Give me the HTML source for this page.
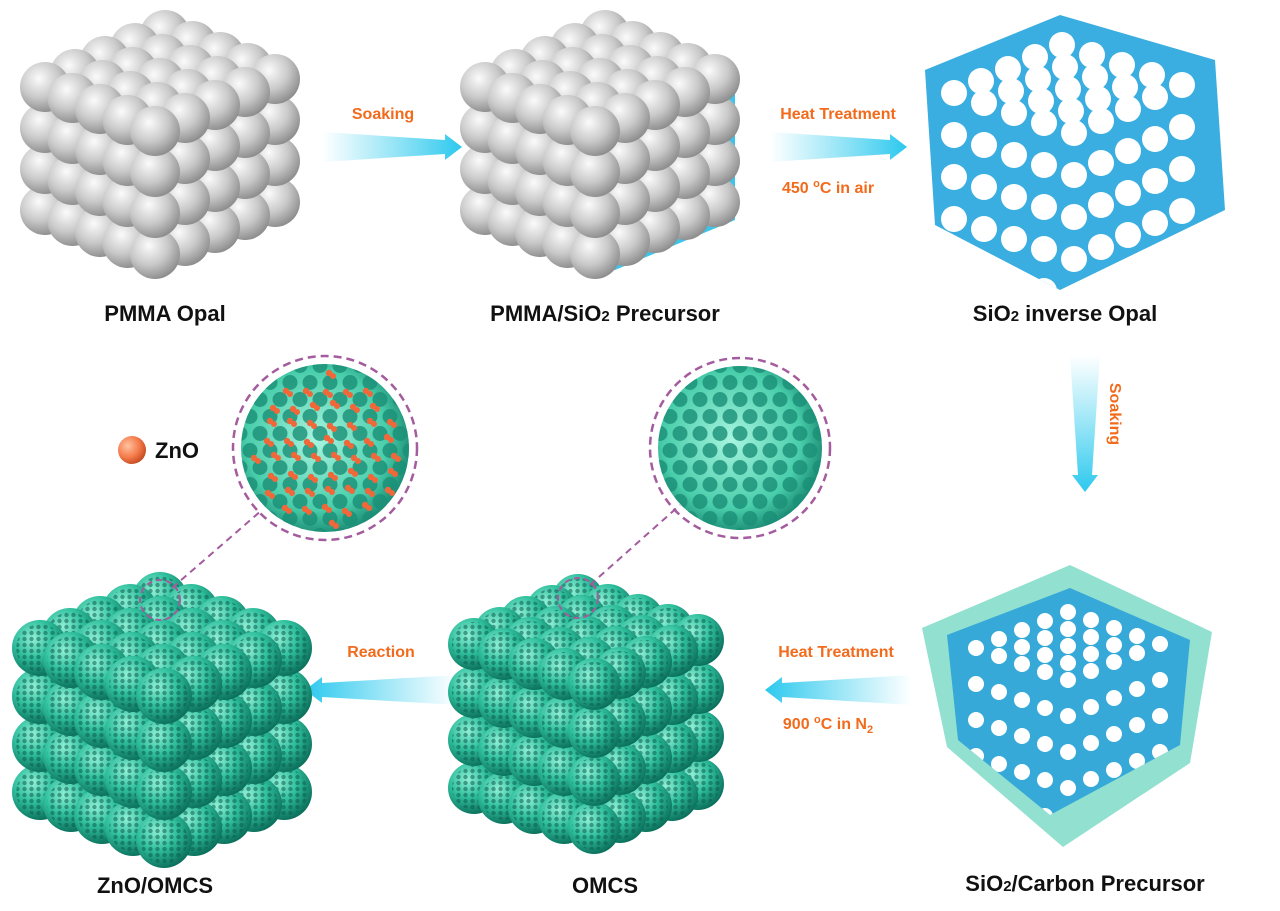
<!DOCTYPE html>
<html><head><meta charset="utf-8"><style>
body{margin:0;background:#fff;width:1280px;height:911px;overflow:hidden;font-family:"Liberation Sans",Arial,sans-serif}
svg{position:absolute;left:0;top:0}
.lb{font-weight:bold;font-size:22px;fill:#111}
.or{font-weight:bold;font-size:16px;fill:#f26b1d}
</style></head><body>
<svg id="s" width="1280" height="911" viewBox="0 0 1280 911">
<defs>
<radialGradient id="gw" cx="0.38" cy="0.33" r="0.7"><stop offset="0" stop-color="#fbfbfb"/><stop offset="0.55" stop-color="#c9c9c9"/><stop offset="1" stop-color="#8c8c8c"/></radialGradient>
<radialGradient id="gt" cx="0.38" cy="0.33" r="0.7"><stop offset="0" stop-color="#8ff0d6"/><stop offset="0.5" stop-color="#2fbf9d"/><stop offset="1" stop-color="#0a6e5a"/></radialGradient>
<radialGradient id="gb" cx="0.45" cy="0.45" r="0.6"><stop offset="0" stop-color="#a8f5e0"/><stop offset="0.7" stop-color="#48cdaa"/><stop offset="1" stop-color="#13806a"/></radialGradient>
<pattern id="hp" width="7" height="6" patternUnits="userSpaceOnUse"><circle cx="3.5" cy="3" r="2.2" fill="#0b5e4d"/></pattern>
<pattern id="hb" width="20" height="34" patternUnits="userSpaceOnUse"><circle cx="10" cy="8.5" r="7.5" fill="#1a8f77"/><circle cx="0" cy="25.5" r="7.5" fill="#1a8f77"/><circle cx="20" cy="25.5" r="7.5" fill="#1a8f77"/></pattern>
<linearGradient id="ah" x1="0" x2="1"><stop offset="0" stop-color="#3cd0ef" stop-opacity="0"/><stop offset="1" stop-color="#2cc8ee"/></linearGradient>
<linearGradient id="ahr" x1="1" x2="0"><stop offset="0" stop-color="#3cd0ef" stop-opacity="0"/><stop offset="1" stop-color="#2cc8ee"/></linearGradient>
<linearGradient id="av" x1="0" x2="0" y1="0" y2="1"><stop offset="0" stop-color="#3cd0ef" stop-opacity="0"/><stop offset="1" stop-color="#2cc8ee"/></linearGradient>
<radialGradient id="zo" cx="0.35" cy="0.35" r="0.7"><stop offset="0" stop-color="#ffc2a0"/><stop offset="0.6" stop-color="#f47a4a"/><stop offset="1" stop-color="#c44a20"/></radialGradient>
<clipPath id="c1"><circle cx="325" cy="448" r="84"/></clipPath>
<clipPath id="c2"><circle cx="740" cy="448" r="82"/></clipPath>
<clipPath id="ci1"><polygon points="1060,15 925,70 935,225 1060,290 1225,210 1215,60"/></clipPath>
<clipPath id="ci2"><polygon points="1070,588 947,635 958,740 1050,815 1180,745 1190,640"/></clipPath>
</defs>
<path d="M322,132 L445,140 L445,134 L462,147 L445,160 L445,154 L322,162 Z" fill="url(#ah)"/>
<path d="M770,132 L890,140 L890,134 L907,147 L890,160 L890,154 L770,162 Z" fill="url(#ah)"/>
<path d="M1070,355 L1078,475 L1072,475 L1085,492 L1098,475 L1092,475 L1100,355 Z" fill="url(#av)"/>
<path d="M458,675 L322,683 L322,677 L305,690 L322,703 L322,697 L458,705 Z" fill="url(#ahr)"/>
<path d="M912,675 L782,683 L782,677 L765,690 L782,703 L782,697 L912,705 Z" fill="url(#ahr)"/>
<text class="or" x="383" y="119" text-anchor="middle">Soaking</text>
<text class="or" x="838" y="119" text-anchor="middle">Heat Treatment</text>
<text class="or" x="828" y="193" text-anchor="middle">450 <tspan font-size="11" dy="-6">o</tspan><tspan dy="6">C  in air</tspan></text>
<text class="or" x="1104" y="420" text-anchor="middle" transform="rotate(90 1110 420)">Soaking</text>
<text class="or" x="836" y="657" text-anchor="middle">Heat Treatment</text>
<text class="or" x="828" y="729" text-anchor="middle">900 <tspan font-size="11" dy="-6">o</tspan><tspan dy="6">C  in N</tspan><tspan font-size="11" dy="4">2</tspan></text>
<text class="or" x="381" y="657" text-anchor="middle">Reaction</text>
<text class="lb" x="165" y="321" text-anchor="middle">PMMA Opal</text>
<text class="lb" x="605" y="321" text-anchor="middle">PMMA/SiO<tspan font-size="15">2</tspan> Precursor</text>
<text class="lb" x="1065" y="321" text-anchor="middle">SiO<tspan font-size="15">2</tspan> inverse Opal</text>
<text class="lb" x="155" y="893" text-anchor="middle">ZnO/OMCS</text>
<text class="lb" x="605" y="893" text-anchor="middle">OMCS</text>
<text class="lb" x="1085" y="891" text-anchor="middle">SiO<tspan font-size="15">2</tspan>/Carbon Precursor</text>
<circle cx="132" cy="450" r="14" fill="url(#zo)"/>
<text class="lb" x="155" y="458">ZnO</text>
<polygon points="605,35 485,88 490,230 615,270 735,220 735,85" fill="#3fc3e8"/>
<polygon points="1060,15 925,70 935,225 1060,290 1225,210 1215,60" fill="#3aaee0"/>
<g id="h1" clip-path="url(#ci1)"></g>
<polygon points="922,628 1070,565 1212,632 1190,763 1063,847 947,747" fill="#92e0cf"/>
<polygon points="1070,588 947,635 958,740 1050,815 1180,745 1190,640" fill="#36a9d8"/>
<g id="h2" clip-path="url(#ci2)"></g>
<g id="g"></g>
<line x1="172" y1="588" x2="262" y2="510" stroke="#a35c9e" stroke-width="2" stroke-dasharray="7,5"/>
<line x1="590" y1="585" x2="680" y2="505" stroke="#a35c9e" stroke-width="2" stroke-dasharray="7,5"/>
<circle cx="325" cy="448" r="84" fill="url(#gb)"/>
<g clip-path="url(#c1)"><rect x="240" y="360" width="170" height="180" fill="url(#hb)" opacity="0.8"/></g>
<g id="dots"></g>
<circle cx="325" cy="448" r="92" fill="none" stroke="#a35c9e" stroke-width="2.5" stroke-dasharray="8,5"/>
<circle cx="740" cy="448" r="82" fill="url(#gb)"/>
<g clip-path="url(#c2)"><rect x="655" y="360" width="170" height="180" fill="url(#hb)" opacity="0.8"/></g>
<circle cx="740" cy="448" r="90" fill="none" stroke="#a35c9e" stroke-width="2.5" stroke-dasharray="8,5"/>
<circle cx="160" cy="600" r="20" fill="none" stroke="#a35c9e" stroke-width="2" stroke-dasharray="6,4"/>
<circle cx="578" cy="598" r="20" fill="none" stroke="#a35c9e" stroke-width="2" stroke-dasharray="6,4"/>
</svg>
<script>
var NS="http://www.w3.org/2000/svg",g=document.getElementById('g');
function c(x,y,r,f,op,par){var e=document.createElementNS(NS,'circle');e.setAttribute('cx',x);e.setAttribute('cy',y);e.setAttribute('r',r);e.setAttribute('fill',f);if(op)e.setAttribute('opacity',op);(par||g).appendChild(e);}
function cube(x0,y0,n,L,dxi,dyi,dxj,dyj,dz,r,fill,pat){
 var a=[];for(var i=0;i<n;i++)for(var j=0;j<n;j++)for(var k=0;k<L;k++){
  if(!(i==n-1||j==n-1||k==0))continue;
  a.push([i+j-k*0.6,x0+i*dxi+j*dxj,y0+i*dyi+j*dyj+k*dz]);}
 a.sort(function(p,q){return p[0]-q[0]});
 a.forEach(function(p){c(p[1],p[2],r,fill);if(pat)c(p[1],p[2],r*0.85,pat,0.55);});}
function holes(par,x0,y0,n,L,dxi,dyi,dxj,dyj,dz,r){
 for(var i=0;i<n;i++)for(var j=0;j<n;j++)for(var k=0;k<L;k++){
  if(!(i==n-1||j==n-1||k==0))continue;
  var x=x0+i*dxi+j*dxj,y=y0+i*dyi+j*dyj+k*dz;
  c(x,y,r,'#ffffff',0,par);}}
holes(document.getElementById('h1'),1062,45,5,5,-27,12,30,10,42,13);
holes(document.getElementById('h2'),1068,612,5,5,-23,9,23,8,36,8);
cube(165,35,5,4,-30,13,27.5,11,41,25,'url(#gw)');
cube(605,35,5,4,-30,13,27.5,11,41,25,'url(#gw)');
cube(578,600,5,4,-26,11,30,10,48,26,'url(#gt)','url(#hp)');
cube(160,600,5,4,-30,12,31,12,48,28,'url(#gt)','url(#hp)');
var d=document.getElementById('dots'),s=7;
for(var x=250;x<405;x+=20)for(var y=372;y<530;y+=17){s=(s*9301+49297)%233280;
 var dx=x+(s%10)-5,dy=y+(s%7)-3;if((dx-325)*(dx-325)+(dy-448)*(dy-448)<76*76){c(dx,dy,3.2,'#f0683a',0,d);c(dx+4,dy+3,3,'#f0683a',0,d);}}
</script>
</body></html>
